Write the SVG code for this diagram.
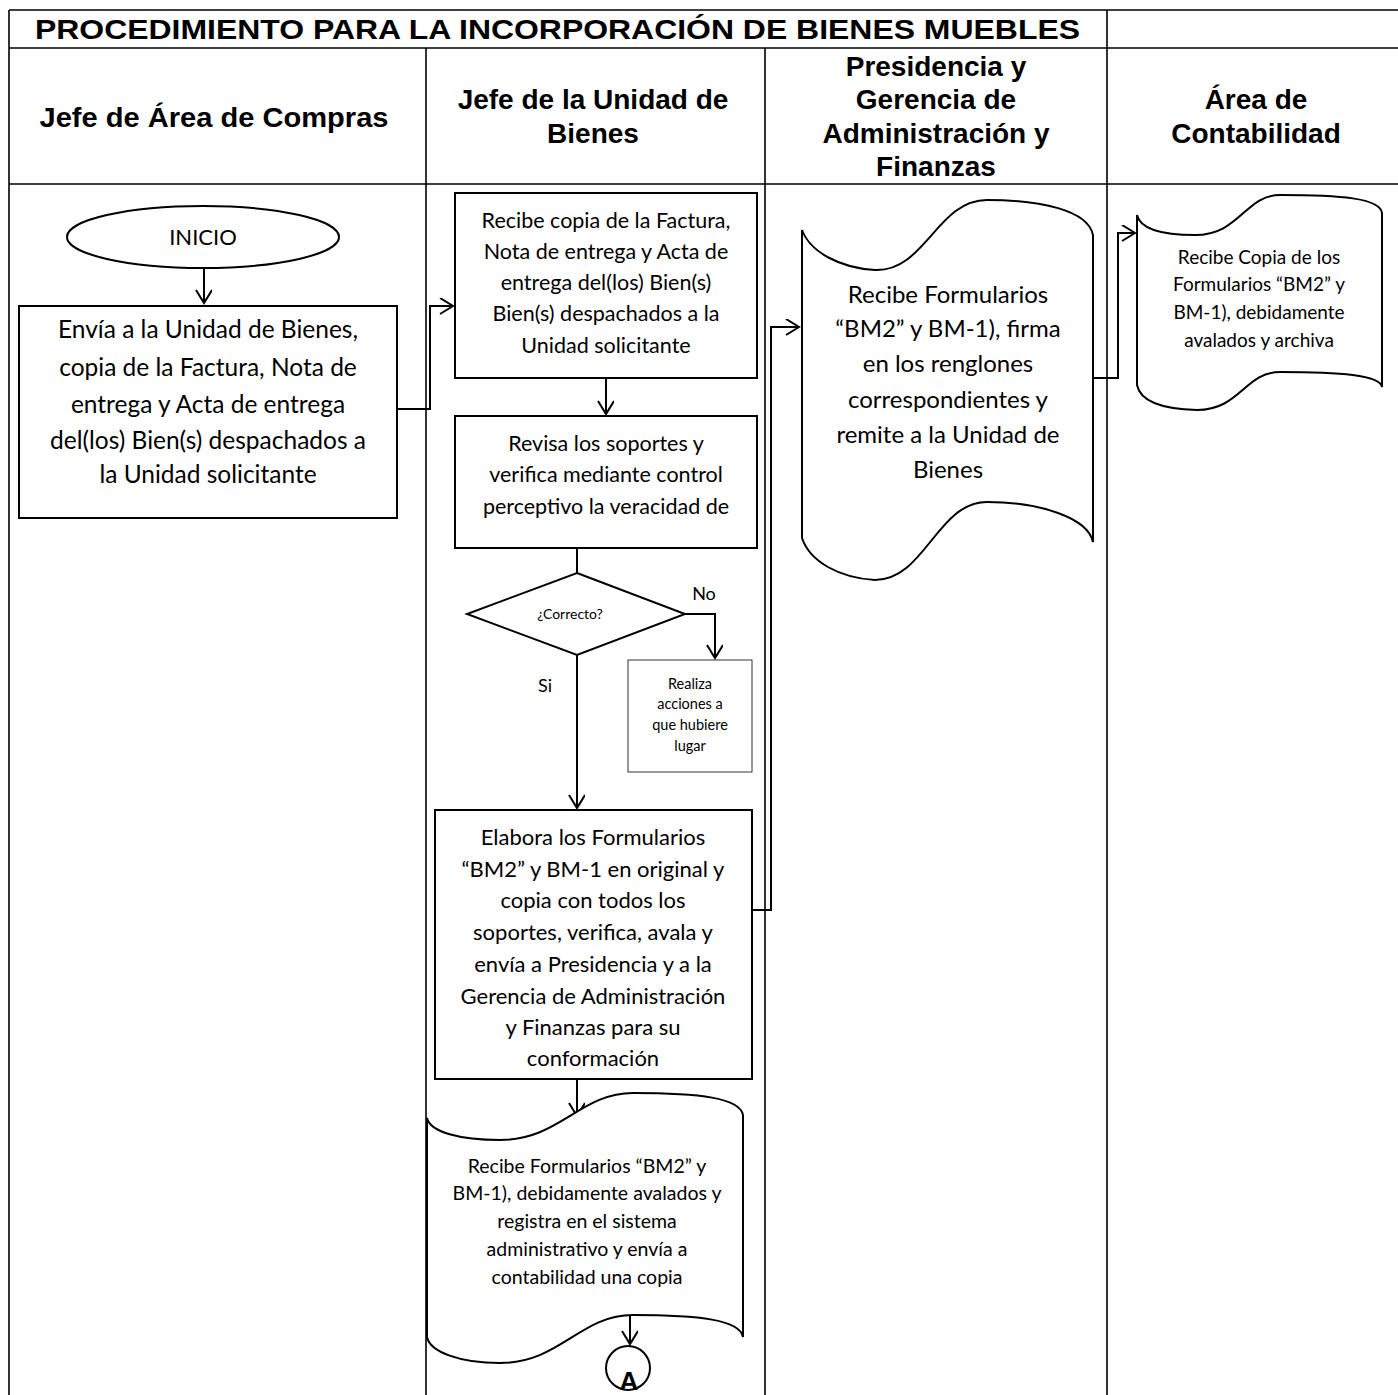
<svg xmlns="http://www.w3.org/2000/svg" width="1398" height="1395" viewBox="0 0 1398 1395">
<defs>
<marker id="arr" markerUnits="userSpaceOnUse" markerWidth="20" markerHeight="20" refX="14" refY="8" orient="auto">
<path d="M1,0 L14,8 L1,16" fill="none" stroke="#000" stroke-width="2"/>
</marker>
<style>
.grid{stroke:#000;stroke-width:1.6;fill:none}
.hd{font-family:"Liberation Sans",Arial,sans-serif;font-weight:bold;font-size:28px;fill:#000;text-anchor:middle}
.box{fill:#fff;stroke:#000;stroke-width:2}
.thin{fill:#fff;stroke:#333;stroke-width:1}
.t{font-family:Lato,"Open Sans",sans-serif;fill:#000;text-anchor:middle}
.cn{fill:none;stroke:#000;stroke-width:2}
</style>
</defs>
<rect width="1398" height="1395" fill="#fff"/>
<g id="table">
<path class="grid" d="M9,10 H1398 M9,48 H1398 M9,184 H1398 M9,10 V1395 M1107,10 V1395 M426,48 V1395 M765,48 V1395"/>
<text class="hd" x="35" y="39" style="text-anchor:start" textLength="1045" lengthAdjust="spacingAndGlyphs">PROCEDIMIENTO PARA LA INCORPORACIÓN DE BIENES MUEBLES</text>
<text class="hd" x="214" y="127" textLength="349" lengthAdjust="spacingAndGlyphs">Jefe de Área de Compras</text>
<text class="hd" x="593" y="109">Jefe de la Unidad de</text>
<text class="hd" x="593" y="143">Bienes</text>
<text class="hd" x="936" y="76">Presidencia y</text>
<text class="hd" x="936" y="109">Gerencia de</text>
<text class="hd" x="936" y="143">Administración y</text>
<text class="hd" x="936" y="176">Finanzas</text>
<text class="hd" x="1256" y="109">Área de</text>
<text class="hd" x="1256" y="143">Contabilidad</text>
</g>
<g id="connectors">
<path class="cn" d="M204,268 V303" marker-end="url(#arr)"/>
<path class="cn" d="M397,409 H430 V306 H453" marker-end="url(#arr)"/>
<path class="cn" d="M606,378 V414" marker-end="url(#arr)"/>
<path class="cn" d="M577,548 V573"/>
<path class="cn" d="M577,655 V808" marker-end="url(#arr)"/>
<path class="cn" d="M685,614 H715 V658" marker-end="url(#arr)"/>
<path class="cn" d="M752,910 H771 V327 H799" marker-end="url(#arr)"/>
<path class="cn" d="M1093,378 H1118 V233 H1135" marker-end="url(#arr)"/>
<path class="cn" d="M577,1079 V1116" marker-end="url(#arr)"/>
<path class="cn" d="M630,1306 V1344" marker-end="url(#arr)"/>
</g>
<g id="inicio">
<ellipse cx="203" cy="237" rx="136" ry="31" class="box" stroke-width="1.8"/>
<text class="t" x="203" y="245" font-size="22">INICIO</text>
</g>
<g id="envia">
<rect x="19" y="306" width="378" height="212" class="box"/>
<text class="t" font-size="24.5"><tspan x="208" y="338">Envía a la Unidad de Bienes,</tspan><tspan x="208" y="376">copia de la Factura, Nota de</tspan><tspan x="208" y="413">entrega y Acta de entrega</tspan><tspan x="208" y="449">del(los) Bien(s) despachados a</tspan><tspan x="208" y="483">la Unidad solicitante</tspan></text>
</g>
<g id="recibe-copia">
<rect x="455" y="193" width="302" height="185" class="box"/>
<text class="t" font-size="21.5"><tspan x="606" y="228">Recibe copia de la Factura,</tspan><tspan x="606" y="259">Nota de entrega y Acta de</tspan><tspan x="606" y="290">entrega del(los) Bien(s)</tspan><tspan x="606" y="321">Bien(s) despachados a la</tspan><tspan x="606" y="353">Unidad solicitante</tspan></text>
</g>
<g id="revisa">
<rect x="455" y="416" width="302" height="132" class="box"/>
<text class="t" font-size="21.5"><tspan x="606" y="451">Revisa los soportes y</tspan><tspan x="606" y="482">verifica mediante control</tspan><tspan x="606" y="514">perceptivo la veracidad de</tspan></text>
</g>
<g id="decision">
<path d="M577,573 L685,614 L577,655 L467,614 Z" class="box"/>
<text class="t" font-size="14" x="570" y="619">¿Correcto?</text>
<text class="t" font-size="18" x="704" y="600">No</text>
<text class="t" font-size="18" x="545" y="692">Si</text>
</g>
<g id="realiza">
<rect x="628" y="660" width="124" height="112" class="thin"/>
<text class="t" font-size="14.5"><tspan x="690" y="689">Realiza</tspan><tspan x="690" y="709">acciones a</tspan><tspan x="690" y="730">que hubiere</tspan><tspan x="690" y="751">lugar</tspan></text>
</g>
<g id="elabora">
<rect x="435" y="810" width="317" height="269" class="box"/>
<text class="t" font-size="22"><tspan x="593" y="845">Elabora los Formularios</tspan><tspan x="593" y="877">“BM2” y BM-1 en original y</tspan><tspan x="593" y="908">copia con todos los</tspan><tspan x="593" y="940">soportes, verifica, avala y</tspan><tspan x="593" y="972">envía a Presidencia y a la</tspan><tspan x="593" y="1004">Gerencia de Administración</tspan><tspan x="593" y="1035">y Finanzas para su</tspan><tspan x="593" y="1066">conformación</tspan></text>
</g>
<g id="presidencia-doc">
<path class="box" stroke-width="1.6" d="M802,230 C810,252 840,268 875,270 C925,272 937,200 987,200 C1040,200 1088,210 1093,235 L1093,542 C1088,518 1040,502 987,502 C937,502 925,580 875,580 C840,578 810,562 802,538 Z"/>
<text class="t" font-size="24"><tspan x="948" y="303">Recibe Formularios</tspan><tspan x="948" y="337">“BM2” y BM-1), firma</tspan><tspan x="948" y="372">en los renglones</tspan><tspan x="948" y="408">correspondientes y</tspan><tspan x="948" y="443">remite a la Unidad de</tspan><tspan x="948" y="478">Bienes</tspan></text>
</g>
<g id="contabilidad-doc">
<path class="box" stroke-width="1.6" d="M1137,215 C1140,228 1160,235 1195,235 C1240,235 1245,195 1280,195 C1340,195 1380,198 1382,213 L1382,387 C1380,375 1340,372 1280,372 C1245,372 1240,410 1197,410 C1160,409 1140,400 1137,385 Z"/>
<text class="t" font-size="19"><tspan x="1259" y="264">Recibe Copia de los</tspan><tspan x="1259" y="291">Formularios “BM2” y</tspan><tspan x="1259" y="319">BM-1), debidamente</tspan><tspan x="1259" y="347">avalados y archiva</tspan></text>
</g>
<g id="registra-doc">
<path class="box" stroke-width="1.6" d="M427,1118 C430,1132 460,1140 500,1140 C560,1140 580,1093 633,1093 C700,1093 740,1098 743,1115 L743,1337 C740,1320 700,1315 633,1315 C580,1315 560,1363 500,1363 C460,1363 430,1352 427,1337 Z"/>
<text class="t" font-size="19.5"><tspan x="587" y="1173">Recibe Formularios “BM2” y</tspan><tspan x="587" y="1200">BM-1), debidamente avalados y</tspan><tspan x="587" y="1228">registra en el sistema</tspan><tspan x="587" y="1256">administrativo y envía a</tspan><tspan x="587" y="1284">contabilidad una copia</tspan></text>
</g>
<g id="conector-a">
<circle cx="628" cy="1368" r="22" class="box" stroke-width="1.8"/>
<text x="629" y="1390" font-family="Liberation Sans, Arial, sans-serif" font-weight="bold" font-size="26" text-anchor="middle">A</text>
</g>
</svg>
